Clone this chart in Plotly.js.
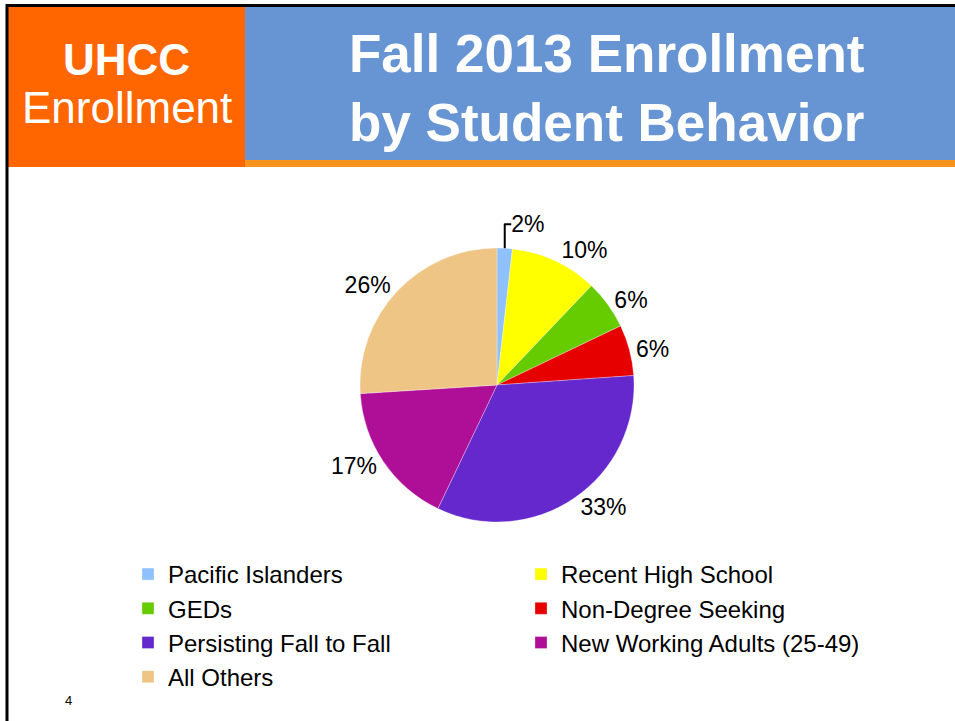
<!DOCTYPE html>
<html>
<head>
<meta charset="utf-8">
<script src="https://cdn.plot.ly/plotly-3.0.1.min.js"></script>
<style>
  html, body { margin: 0; padding: 0; background: #ffffff; }
  #chart { width: 955px; height: 721px; }
</style>
</head>
<body>
<div id="chart"></div>
<script>
// Data
const categories = [
  "Pacific Islanders",
  "Recent High School",
  "GEDs",
  "Non-Degree Seeking",
  "Persisting Fall to Fall",
  "New Working Adults (25-49)",
  "All Others"
];
const shares = [1.8, 10.3, 5.8, 6.0, 33.2, 16.9, 26.0];
const sliceColors = ["#8fc0ff", "#ffff00", "#66cc00", "#e60000", "#6428cd", "#af0f96", "#eec585"];

const headerTitle = "Fall 2013 Enrollment<br>by Student Behavior";
const boxLine1 = "UHCC";
const boxLine2 = "Enrollment";
const pageNumber = "4";

const W = 955, H = 721;
const px = x => x / W;
const py = y => 1 - y / H;

const trace = {
  type: "pie",
  labels: categories,
  values: shares,
  sort: false,
  direction: "clockwise",
  rotation: 0,
  marker: { colors: sliceColors, line: { color: "rgba(255,255,255,0.6)", width: 0.5 } },
  texttemplate: "%{percent:.0%}",
  textposition: "outside",
  outsidetextfont: { family: "Arial, Liberation Sans, sans-serif", size: 23, color: "#000000" },
  hoverinfo: "label+percent",
  domain: { x: [px(360), px(634)], y: [py(522), py(248)] },
  automargin: false
};

const layout = {
  width: W, height: H,
  margin: { l: 0, r: 0, t: 0, b: 0 },
  paper_bgcolor: "#ffffff",
  plot_bgcolor: "#ffffff",
  font: { family: "Arial, Liberation Sans, sans-serif", color: "#000000" },
  showlegend: true,
  legend: {
    orientation: "h",
    x: px(128), y: py(552), xanchor: "left", yanchor: "top",
    entrywidth: 348, entrywidthmode: "pixels",
    font: { size: 24, color: "#000000" },
    itemwidth: 30,
    tracegroupgap: 0,
    traceorder: "normal",
    bgcolor: "rgba(0,0,0,0)"
  },
  shapes: [
    { type: "rect", xref: "paper", yref: "paper", x0: px(245), x1: 1, y0: py(160), y1: py(7),
      fillcolor: "#6794d2", line: { width: 0 }, layer: "below" },
    { type: "rect", xref: "paper", yref: "paper", x0: px(245), x1: 1, y0: py(167), y1: py(160),
      fillcolor: "#f7941d", line: { width: 0 }, layer: "below" },
    { type: "rect", xref: "paper", yref: "paper", x0: px(8), x1: px(245), y0: py(167), y1: py(7),
      fillcolor: "#ff6600", line: { width: 0 }, layer: "below" },
    { type: "line", xref: "paper", yref: "paper", x0: px(6), x1: 1, y0: py(5.5), y1: py(5.5),
      line: { color: "#000000", width: 3 } },
    { type: "line", xref: "paper", yref: "paper", x0: px(7), x1: px(7), y0: 0, y1: py(4),
      line: { color: "#000000", width: 3 } }
  ],
  annotations: [
    { text: headerTitle, xref: "paper", yref: "paper", x: px(606), y: py(88), xanchor: "center", yanchor: "middle",
      showarrow: false, align: "center",
      font: { family: "Arial, Liberation Sans, sans-serif", size: 53, color: "#ffffff", weight: "bold" } },
    { text: "<b>" + boxLine1 + "</b>", xref: "paper", yref: "paper", x: px(127), y: py(60), xanchor: "center", yanchor: "middle",
      showarrow: false, font: { family: "Arial, Liberation Sans, sans-serif", size: 44, color: "#ffffff" } },
    { text: boxLine2, xref: "paper", yref: "paper", x: px(127), y: py(108), xanchor: "center", yanchor: "middle",
      showarrow: false, font: { family: "Arial, Liberation Sans, sans-serif", size: 44, color: "#ffffff" } },
    { text: pageNumber, xref: "paper", yref: "paper", x: px(68), y: py(700), xanchor: "center", yanchor: "middle",
      showarrow: false, font: { family: "Arial, Liberation Sans, sans-serif", size: 13, color: "#000000" } }
  ]
};

Plotly.newPlot("chart", [trace], layout, { displayModeBar: false, staticPlot: true });
</script>
</body>
</html>
